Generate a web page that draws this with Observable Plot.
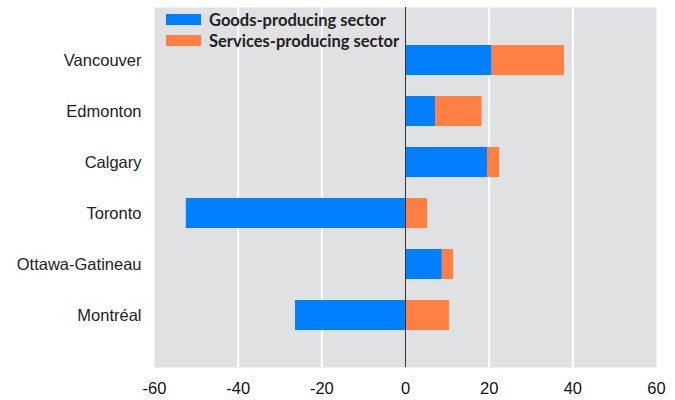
<!DOCTYPE html>
<html>
<head>
<meta charset="utf-8">
<script src="https://cdn.jsdelivr.net/npm/d3@7"></script>
<script src="https://cdn.jsdelivr.net/npm/@observablehq/plot@0.6"></script>
<style>
  body { margin: 0; background: #fff; }
  #wrap { position: relative; width: 675px; height: 400px; }
  .legend { position: absolute; left: 166px; top: 9px; font-family: Lato, "Open Sans", sans-serif; font-weight: 700; font-size: 16.5px; color: #222; }
  .legend div { display: flex; align-items: center; height: 21px; }
  .legend span.sw { display: inline-block; width: 35px; height: 11px; margin-right: 8px; }
</style>
</head>
<body>
<div id="wrap"></div>
<script>
const cities = ["Vancouver", "Edmonton", "Calgary", "Toronto", "Ottawa-Gatineau", "Montréal"];
const goods = [20.7, 7.2, 19.6, -52.4, 8.8, -26.3];
const services = [17.3, 11.1, 2.9, 5.3, 2.7, 10.5];
const seriesNames = ["Goods-producing sector", "Services-producing sector"];
const seriesColors = ["#007fff", "#ff8042"];
const xTicks = [-60, -40, -20, 0, 20, 40, 60];
const gridTicks = [-40, -20, 20, 40];

const rows = [];
cities.forEach((c, i) => {
  rows.push({city: c, sector: seriesNames[0], value: goods[i]});
  rows.push({city: c, sector: seriesNames[1], value: services[i]});
});

const chart = Plot.plot({
  width: 675,
  height: 400,
  marginLeft: 154,
  marginRight: 19,
  marginTop: 7,
  marginBottom: 33,
  style: {fontFamily: "'Liberation Sans', Arial, sans-serif", fontSize: "16.5px", background: "#fff"},
  x: {domain: [-60, 60], ticks: xTicks, tickFormat: d => String(d), label: null},
  y: {domain: cities, padding: 0.42, paddingOuter: 0.7, label: null},
  color: {domain: seriesNames, range: seriesColors},
  marks: [
    Plot.frame({fill: "#e0e1e3", stroke: null}),
    Plot.ruleX(gridTicks, {stroke: "#fff", strokeWidth: 2}),
    Plot.barX(rows, Plot.stackX({x: "value", y: "city", fill: "sector", order: seriesNames})),
    Plot.ruleX([0], {stroke: "#333", strokeWidth: 1}),
    Plot.axisX({ticks: xTicks, tickSize: 0, tickPadding: 15, fontSize: 16.5, fill: "#111", label: null, tickFormat: d => String(d)}),
    Plot.axisY({tickSize: 0, tickPadding: 13, fontSize: 16.5, fill: "#222", label: null})
  ]
});

const wrap = document.getElementById("wrap");
wrap.appendChild(chart);
const leg = document.createElement("div");
leg.className = "legend";
seriesNames.forEach((n, i) => {
  const d = document.createElement("div");
  d.innerHTML = `<span class="sw" style="background:${seriesColors[i]}"></span>${n}`;
  leg.appendChild(d);
});
wrap.appendChild(leg);
</script>
</body>
</html>
